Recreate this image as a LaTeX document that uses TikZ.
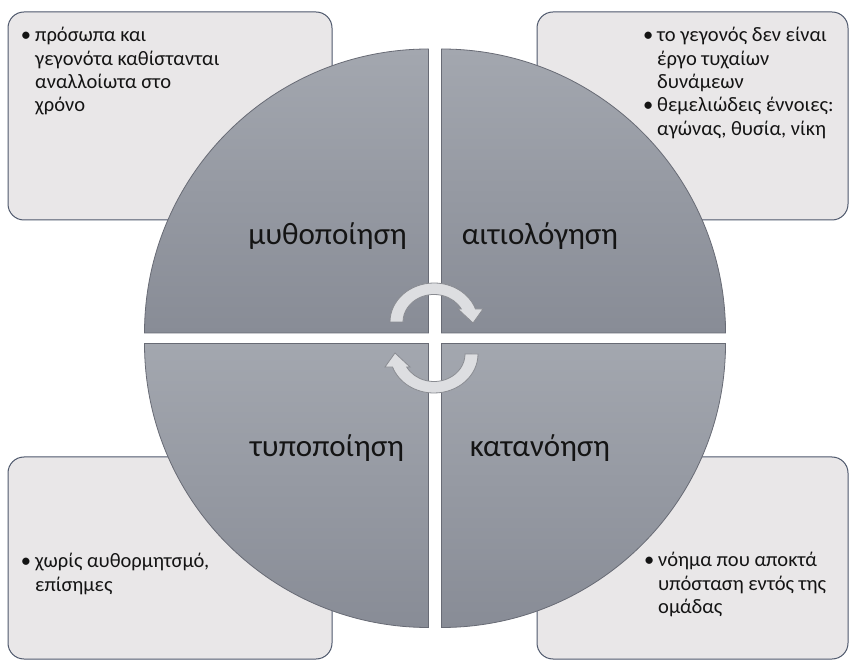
\documentclass[tikz,border=0pt]{standalone}
\usepackage{fontspec}
\setmainfont{Carlito}
\usetikzlibrary{positioning, calc}
\definecolor{boxfill}{RGB}{233,231,232}
\definecolor{boxline}{RGB}{78,88,108}
\definecolor{quadtop}{RGB}{163,167,175}
\definecolor{quadbot}{RGB}{136,140,150}
\definecolor{quadline}{RGB}{104,107,117}
\definecolor{arrowfill}{RGB}{221,222,225}
\definecolor{arrowline}{RGB}{138,140,146}
\definecolor{darktext}{RGB}{20,20,20}

\newcommand{\bul}{\llap{\textbullet\hspace{4pt}}}

\tikzset{
    infobox/.style={draw=boxline, fill=boxfill, line width=1pt, rounded corners=16pt},
    infotext/.style={anchor=north west, inner sep=0pt, align=left, text=darktext,
                     font=\fontsize{20.5}{23.3}\selectfont},
    quadrant/.style={top color=quadtop, bottom color=quadbot, draw=quadline, line width=0.8pt},
    quadlabel/.style={anchor=base, inner sep=0pt, text=darktext, font=\fontsize{31}{37}\selectfont},
    arrowshape/.style={fill=arrowfill, draw=arrowline, line width=0.8pt},
    turnarrow/.pic={
        \path[arrowshape] (-44,0) arc[start angle=180, end angle=19.5, x radius=44pt, y radius=39pt]
            -- (49,13) -- (39,-1) -- (24,13) -- (27.3,13)
            arc[start angle=28.2, end angle=180, x radius=31pt, y radius=27.5pt] -- cycle;
    }
}

\begin{document}
\begin{tikzpicture}[x=1pt, y=1pt]
    \useasboundingbox (0,0) rectangle (850,661);
    \fill[white] (0,0) rectangle (850,661);

    % text boxes behind the circle
    \node[infobox, minimum width=324pt, minimum height=208pt] (tlbox) at (170,545) {};
    \node[infobox, minimum width=311pt, minimum height=208pt] (trbox) at (692.5,545) {};
    \node[infobox, minimum width=324pt, minimum height=202pt] (blbox) at (170,103) {};
    \node[infobox, minimum width=311pt, minimum height=202pt] (brbox) at (692.5,103) {};

    % four quarters of the circle
    \path[quadrant] (428.5,328) -- (144.5,328) arc[start angle=180, end angle=90, radius=284pt] -- cycle;
    \path[quadrant] (441.5,328) -- (441.5,612) arc[start angle=90, end angle=0, radius=284pt] -- cycle;
    \path[quadrant] (428.5,317.5) -- (428.5,33.5) arc[start angle=270, end angle=180, radius=284pt] -- cycle;
    \path[quadrant] (441.5,317.5) -- (725.5,317.5) arc[start angle=0, end angle=-90, radius=284pt] -- cycle;

    \node[quadlabel] (mytho) at (327.5,416.5) {μυθοποίηση};
    \node[quadlabel] (aitio) at (540,416.5) {αιτιολόγηση};
    \node[quadlabel] (typo) at (327,204) {τυποποίηση};
    \node[quadlabel] (katan) at (540,204) {κατανόηση};

    % cycle arrows in the middle
    \pic at (434,339) {turnarrow};
    \pic[rotate=180] at (434,307) {turnarrow};

    \node[infotext] (tltext) at (35,635.6) {\strut\bul πρόσωπα και\\γεγονότα καθίστανται\\αναλλοίωτα στο\\χρόνο};
    \node[infotext] (trtext) at (657,635.6) {\strut\bul το γεγονός δεν είναι\\έργο τυχαίων\\δυνάμεων\\\bul θεμελιώδεις έννοιες:\\αγώνας, θυσία, νίκη};
    \node[infotext] (bltext) at (35,109.8) {\strut\bul χωρίς αυθορμητσμό,\\επίσημες};
    \node[infotext] (brtext) at (658,110.6) {\strut\bul νόημα που αποκτά\\υπόσταση εντός της\\ομάδας};
\end{tikzpicture}
\end{document}
